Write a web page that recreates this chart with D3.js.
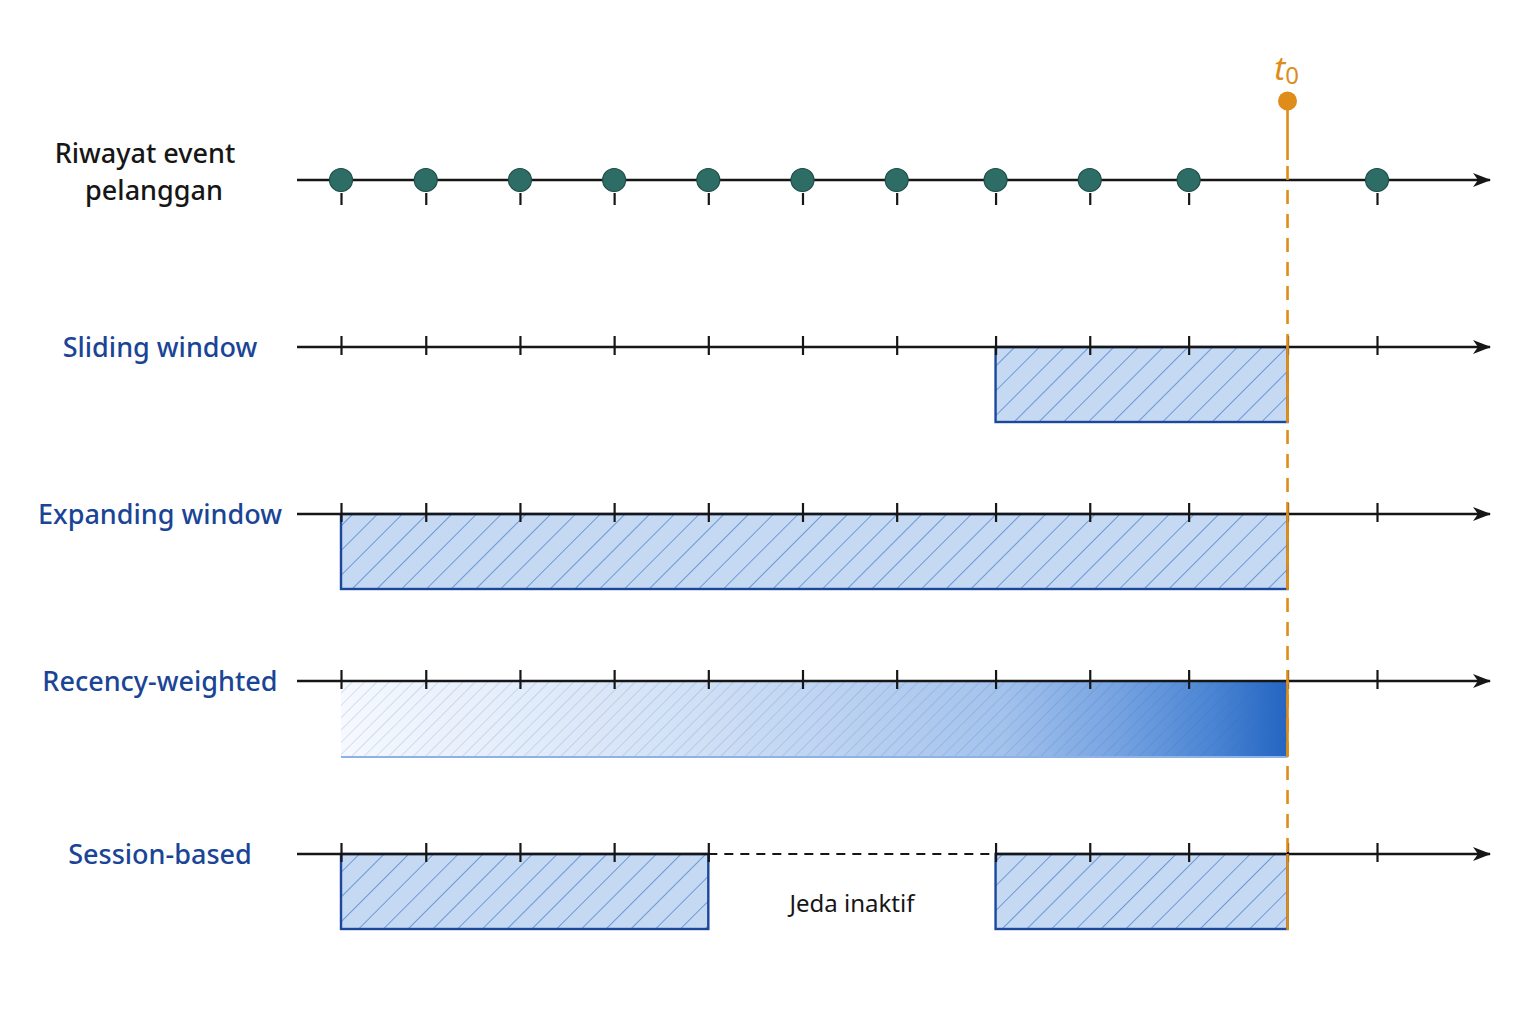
<!DOCTYPE html>
<html>
<head>
<meta charset="utf-8">
<script src="https://cdn.jsdelivr.net/npm/d3@7"></script>
<style>
  body { margin: 0; background: #fff; }
  text { font-family: "Noto Sans", "DejaVu Sans", sans-serif; }
</style>
</head>
<body>
<div id="chart"></div>
<script>
const svgWidth = 1536;
const svgHeight = 1024;
const axisStart = 297;
const axisEnd = 1490;

// time positions (arbitrary units)
const tickTimes = [0, 0.9, 1.9, 2.9, 3.9, 4.9, 5.9, 6.95, 7.95, 9.0, 10.05, 11];
const eventTimes = [0, 0.9, 1.9, 2.9, 3.9, 4.9, 5.9, 6.95, 7.95, 9.0, 11];
const t0 = 10.05;

const rowLabels = ["Sliding window", "Expanding window", "Recency-weighted", "Session-based"];
const slidingWindow = [[6.95, t0]];
const expandingWindow = [[0, t0]];
const recencyWindow = [[0, t0]];
const sessionWindows = [[0, 3.9], [6.95, t0]];
const gapLabel = "Jeda inaktif";

const rowY = [180, 347, 514, 681, 854];
const boxH = 75;

const orange = "#de8d1a";
const blueText = "#1a4596";
const boxStroke = "#1c479b";
const boxFill = "#c5d9f2";
const ink = "#161616";

const xScale = d3.scaleLinear().domain([0, 11]).range([341, 1377]);

const svg = d3.select("#chart")
    .append("svg")
    .attr("width", svgWidth)
    .attr("height", svgHeight);

const defs = svg.append("defs");

defs.append("marker")
    .attr("id", "arrow")
    .attr("viewBox", "0 0 18 14")
    .attr("refX", 17)
    .attr("refY", 7)
    .attr("markerWidth", 18)
    .attr("markerHeight", 14)
    .attr("markerUnits", "userSpaceOnUse")
    .attr("orient", "auto")
    .append("path")
    .attr("d", "M0,0 L18,7 L0,14 L5,7 Z")
    .attr("fill", ink);

function hatch(id, gap, color, width, opacity) {
    defs.append("pattern")
        .attr("id", id)
        .attr("patternUnits", "userSpaceOnUse")
        .attr("width", gap)
        .attr("height", gap)
        .attr("patternTransform", "rotate(45)")
        .append("line")
        .attr("x1", 0).attr("y1", 0)
        .attr("x2", 0).attr("y2", gap)
        .attr("stroke", color)
        .attr("stroke-width", width)
        .attr("stroke-opacity", opacity);
}
hatch("hatch", 17.5, "#3a72c9", 1.4, 0.9);
hatch("hatchFine", 8.7, "#2f62b3", 1, 0.35);

const grad = defs.append("linearGradient")
    .attr("id", "recency")
    .attr("x1", "0%").attr("x2", "100%")
    .attr("y1", "0%").attr("y2", "0%");
[["0%", "#f6f9fe"], ["38%", "#d0e0f5"], ["70%", "#a3c2ec"], ["82%", "#76a3e1"],
 ["92%", "#4b85d3"], ["100%", "#2465c2"]].forEach(s => {
    grad.append("stop").attr("offset", s[0]).attr("stop-color", s[1]);
});

// --- windows (drawn before axes so axes sit on top)
function drawBoxes(data, y) {
    const g = svg.append("g");
    g.selectAll("rect.fill")
        .data(data)
        .enter()
        .append("rect")
        .attr("x", d => xScale(d[0]))
        .attr("y", y)
        .attr("width", d => xScale(d[1]) - xScale(d[0]))
        .attr("height", boxH)
        .attr("fill", boxFill);
    g.selectAll("rect.hatch")
        .data(data)
        .enter()
        .append("rect")
        .attr("x", d => xScale(d[0]))
        .attr("y", y)
        .attr("width", d => xScale(d[1]) - xScale(d[0]))
        .attr("height", boxH)
        .attr("fill", "url(#hatch)")
        .attr("stroke", boxStroke)
        .attr("stroke-width", 2.4);
}

drawBoxes(slidingWindow, rowY[1]);
drawBoxes(expandingWindow, rowY[2]);
drawBoxes(sessionWindows, rowY[4]);

const rec = svg.append("g");
rec.selectAll("rect.grad")
    .data(recencyWindow)
    .enter()
    .append("rect")
    .attr("x", d => xScale(d[0]))
    .attr("y", rowY[3])
    .attr("width", d => xScale(d[1]) - xScale(d[0]))
    .attr("height", boxH + 1)
    .attr("fill", "url(#recency)");
rec.selectAll("rect.hatch")
    .data(recencyWindow)
    .enter()
    .append("rect")
    .attr("x", d => xScale(d[0]))
    .attr("y", rowY[3])
    .attr("width", d => xScale(d[1]) - xScale(d[0]))
    .attr("height", boxH + 1)
    .attr("fill", "url(#hatchFine)");
rec.selectAll("line")
    .data(recencyWindow)
    .enter()
    .append("line")
    .attr("x1", d => xScale(d[0]))
    .attr("x2", d => xScale(d[1]))
    .attr("y1", rowY[3] + boxH + 1)
    .attr("y2", rowY[3] + boxH + 1)
    .attr("stroke", "#8fb2e6")
    .attr("stroke-width", 2.2);

// --- axes lines
rowY.forEach((y, i) => {
    const g = svg.append("g");
    let ticks = tickTimes;
    if (i === 4) {
        const gapStart = xScale(sessionWindows[0][1]);
        const gapEnd = xScale(sessionWindows[1][0]);
        g.append("line")
            .attr("x1", axisStart).attr("x2", gapStart)
            .attr("y1", y).attr("y2", y)
            .attr("stroke", ink).attr("stroke-width", 2.4);
        g.append("line")
            .attr("x1", gapStart).attr("x2", gapEnd)
            .attr("y1", y).attr("y2", y)
            .attr("stroke", ink).attr("stroke-width", 1.8)
            .attr("stroke-dasharray", "9,7");
        g.append("line")
            .attr("x1", gapEnd).attr("x2", axisEnd)
            .attr("y1", y).attr("y2", y)
            .attr("stroke", ink).attr("stroke-width", 2.4)
            .attr("marker-end", "url(#arrow)");
        // no ticks inside the inactive gap
        ticks = tickTimes.filter(t => t <= sessionWindows[0][1] || t >= sessionWindows[1][0]);
    } else {
        g.append("line")
            .attr("x1", axisStart).attr("x2", axisEnd)
            .attr("y1", y).attr("y2", y)
            .attr("stroke", ink).attr("stroke-width", 2.4)
            .attr("marker-end", "url(#arrow)");
    }

    // ticks via d3 axis
    const axis = d3.axisBottom(xScale)
        .tickValues(ticks)
        .tickFormat("")
        .tickSizeOuter(0);
    let ag;
    if (i === 0) {
        axis.tickSizeInner(12).tickValues(eventTimes);
        ag = svg.append("g").attr("transform", `translate(0, ${y + 13})`).call(axis);
    } else {
        axis.tickSizeInner(19);
        ag = svg.append("g").attr("transform", `translate(0, ${y - 11})`).call(axis);
    }
    ag.select(".domain").remove();
    ag.selectAll(".tick line").attr("stroke", ink).attr("stroke-width", 2.2);
});

// --- t0 marker
const tx = xScale(t0);
svg.append("line")
    .attr("x1", tx).attr("x2", tx)
    .attr("y1", 101).attr("y2", 160)
    .attr("stroke", orange).attr("stroke-width", 2.6);
svg.append("line")
    .attr("x1", tx).attr("x2", tx)
    .attr("y1", 166).attr("y2", rowY[4])
    .attr("stroke", orange).attr("stroke-width", 2.6)
    .attr("stroke-dasharray", "14,10");
// solid edge where windows end at t0
[rowY[1], rowY[2], rowY[3], rowY[4]].forEach(y => {
    svg.append("line")
        .attr("x1", tx).attr("x2", tx)
        .attr("y1", y).attr("y2", y + boxH + 1)
        .attr("stroke", orange).attr("stroke-width", 2.6);
});
svg.append("circle")
    .attr("cx", tx).attr("cy", 101).attr("r", 9.5)
    .attr("fill", orange);
const t0Label = svg.append("text")
    .attr("x", tx - 1)
    .attr("y", 80)
    .attr("text-anchor", "middle")
    .attr("fill", orange)
    .attr("font-size", 33);
t0Label.append("tspan").attr("font-style", "italic").text("t");
t0Label.append("tspan").attr("font-size", 24).attr("dy", 4).text("0");

// --- event dots
svg.append("g")
    .selectAll("circle")
    .data(eventTimes)
    .enter()
    .append("circle")
    .attr("cx", d => xScale(d))
    .attr("cy", rowY[0])
    .attr("r", 11.5)
    .attr("fill", "#2e6d65")
    .attr("stroke", "#1e4e48")
    .attr("stroke-width", 1.2);

// --- labels
svg.append("text")
    .attr("x", 145)
    .attr("y", 163)
    .attr("text-anchor", "middle")
    .attr("font-size", 27)
    .attr("font-weight", 500)
    .attr("fill", ink)
    .text("Riwayat event");
svg.append("text")
    .attr("x", 154)
    .attr("y", 200)
    .attr("text-anchor", "middle")
    .attr("font-size", 27)
    .attr("font-weight", 500)
    .attr("fill", ink)
    .text("pelanggan");

svg.append("g")
    .selectAll("text")
    .data(rowLabels)
    .enter()
    .append("text")
    .attr("x", 160)
    .attr("y", (d, i) => rowY[i + 1] + 10)
    .attr("text-anchor", "middle")
    .attr("font-size", 27)
    .attr("font-weight", 500)
    .attr("fill", blueText)
    .text(d => d);

svg.append("text")
    .attr("x", (xScale(sessionWindows[0][1]) + xScale(sessionWindows[1][0])) / 2)
    .attr("y", 912)
    .attr("text-anchor", "middle")
    .attr("font-size", 24)
    .attr("fill", ink)
    .text(gapLabel);
</script>
</body>
</html>
